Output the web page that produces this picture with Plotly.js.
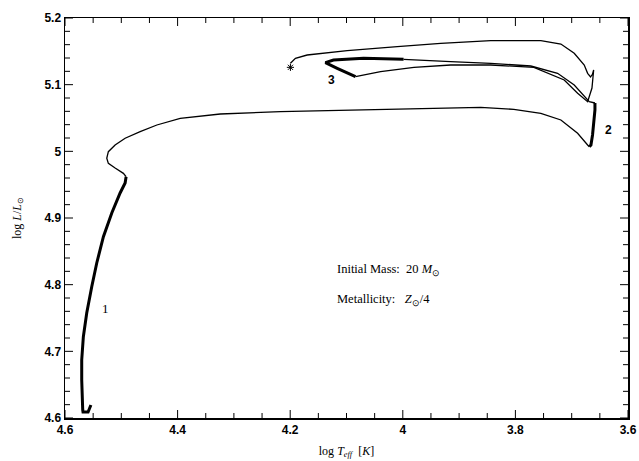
<!DOCTYPE html>
<html>
<head>
<meta charset="utf-8">
<script src="https://cdn.plot.ly/plotly-3.0.1.min.js"></script>
<style>html,body{margin:0;padding:0;background:#fff}#chart{width:639px;height:461px}</style>
</head>
<body>
<div id="chart"></div>
<script>
// Evolutionary track of a 20 Msun star, Z = Zsun/4 (log Teff, log L/Lsun)
// Segment A: core H burning (thick)
const msT = [4.554, 4.559, 4.568, 4.5685, 4.5703, 4.5703, 4.5674, 4.5614, 4.5525, 4.5436, 4.5318, 4.5169, 4.5021, 4.4932, 4.4915];
const msL = [4.6195, 4.609, 4.609, 4.612, 4.657, 4.687, 4.722, 4.7575, 4.797, 4.8325, 4.872, 4.9075, 4.9375, 4.9525, 4.962];
// Segment B: hook + Hertzsprung gap crossing (thin)
const hgT = [4.4915, 4.4963, 4.511, 4.523, 4.5258, 4.523, 4.511, 4.4932, 4.4665, 4.4368, 4.3954, 4.3242, 4.2174, 4.0987, 3.9808, 3.8616, 3.8028, 3.7548, 3.7192, 3.6895, 3.6717, 3.6688];
const hgL = [4.962, 4.967, 4.975, 4.982, 4.9896, 4.9995, 5.0095, 5.0196, 5.0295, 5.0395, 5.0496, 5.056, 5.0595, 5.062, 5.0646, 5.066, 5.063, 5.057, 5.047, 5.027, 5.0095, 5.007];
// Segment C: red supergiant He burning (thick)
const rsgT = [3.6688, 3.6658, 3.663, 3.6601, 3.6587, 3.6587];
const rsgL = [5.007, 5.0095, 5.0245, 5.047, 5.062, 5.0725];
// Segment D: blueward to loop (thin)
const bwT = [3.6587, 3.6688, 3.6955, 3.7251, 3.7726, 3.8438, 3.9149, 3.9986];
const bwL = [5.0725, 5.0745, 5.0995, 5.117, 5.128, 5.132, 5.1345, 5.138];
// Segment E: blue loop He burning (thick)
const loopT = [3.9986, 4.0697, 4.1231, 4.1374, 4.1165, 4.0898, 4.084];
const loopL = [5.138, 5.1395, 5.137, 5.133, 5.1245, 5.1145, 5.112];
// Segment F: back to red, final crossing (thin)
const finT = [4.084, 4.0395, 3.9802, 3.9149, 3.8438, 3.7672, 3.7133, 3.6895, 3.6717, 3.664, 3.661, 3.6632, 3.6665, 3.6717, 3.6777, 3.6955, 3.7192, 3.7548, 3.8438, 3.9327, 4.0098, 4.0987, 4.1699, 4.1907, 4.1996];
const finL = [5.112, 5.1195, 5.126, 5.1295, 5.1295, 5.126, 5.107, 5.087, 5.0745, 5.095, 5.122, 5.1155, 5.1115, 5.117, 5.1295, 5.147, 5.161, 5.166, 5.166, 5.162, 5.157, 5.151, 5.1445, 5.1395, 5.132];
// End of track marker
const endT = [4.1996];
const endL = [5.126];
// Phase labels
const phaseText = ['1', '2', '3'];
const phaseT = [4.5288, 3.6338, 4.1267];
const phaseL = [4.765, 5.032, 5.107];
// Axis tick positions (major labelled, minor unlabelled)
const xMajor = [4.6, 4.4, 4.2, 4.0, 3.8, 3.6];
const xMinor = [4.55, 4.5, 4.45, 4.35, 4.3, 4.25, 4.15, 4.1, 4.05, 3.95, 3.9, 3.85, 3.75, 3.7, 3.65];
const yMajor = [4.6, 4.7, 4.8, 4.9, 5.0, 5.1, 5.2];
const yMinor = [4.62, 4.64, 4.66, 4.68, 4.72, 4.74, 4.76, 4.78, 4.82, 4.84, 4.86, 4.88, 4.92, 4.94, 4.96, 4.98, 5.02, 5.04, 5.06, 5.08, 5.12, 5.14, 5.16, 5.18];

const X0 = 4.6, X1 = 3.6, Y0 = 4.6, Y1 = 5.2;
const plotW = 639 - 65 - 11, plotH = 461 - 18 - 43;
const xPerPx = (X0 - X1) / plotW, yPerPx = (Y1 - Y0) / plotH;

// inward tick marks on all four sides, placed through the axes' own scales
function xTicks(vals, lenPx) {
  const xs = [], ys = [], d = lenPx * yPerPx;
  vals.forEach(v => { xs.push(v, v, null, v, v, null); ys.push(Y0, Y0 + d, null, Y1, Y1 - d, null); });
  return {xs, ys};
}
function yTicks(vals, lenPx) {
  const xs = [], ys = [], d = lenPx * xPerPx;
  vals.forEach(v => { xs.push(X0, X0 - d, null, X1, X1 + d, null); ys.push(v, v, null, v, v, null); });
  return {xs, ys};
}
const tickLine = {color: '#000', width: 1};
const tickTrace = t => ({x: t.xs, y: t.ys, mode: 'lines', line: tickLine, hoverinfo: 'skip', showlegend: false, connectgaps: false, cliponaxis: false});

const thin = {color: '#000', width: 1.3};
const thick = {color: '#000', width: 3};
const tr = (x, y, line) => ({x, y, mode: 'lines', line, hoverinfo: 'skip', showlegend: false});

const data = [
  tickTrace(xTicks(xMajor, 8)),
  tickTrace(xTicks(xMinor, 5)),
  tickTrace(yTicks(yMajor, 8)),
  tickTrace(yTicks(yMinor, 5)),
  tr(msT, msL, thick),
  tr(hgT, hgL, thin),
  tr(rsgT, rsgL, thick),
  tr(bwT, bwL, thin),
  tr(loopT, loopL, thick),
  tr(finT, finL, thin),
  {x: endT, y: endL, mode: 'markers', marker: {symbol: 'asterisk-open', size: 6, color: '#000', line: {color: '#000', width: 1}}, showlegend: false}
];

const serif = 'Liberation Serif, Times New Roman, serif';
const sans = 'Liberation Sans, Arial, sans-serif';

const annotations = [
  {x: phaseT[0], y: phaseL[0], text: phaseText[0], font: {family: serif, size: 13, color: '#000'}},
  {x: phaseT[1], y: phaseL[1], text: '<b>' + phaseText[1] + '</b>', font: {family: sans, size: 12, color: '#000'}},
  {x: phaseT[2], y: phaseL[2], text: '<b>' + phaseText[2] + '</b>', font: {family: sans, size: 12, color: '#000'}},
  {x: 4.12, y: 4.822, xanchor: 'left', text: 'Initial Mass:  20 <i>M</i><sub>⊙</sub>', font: {family: serif, size: 12.5, color: '#000'}},
  {x: 4.12, y: 4.777, xanchor: 'left', text: 'Metallicity:   <i>Z</i><sub>⊙</sub>/4', font: {family: serif, size: 12.5, color: '#000'}}
].map(a => Object.assign({xref: 'x', yref: 'y', showarrow: false}, a));

const layout = {
  width: 639, height: 461,
  margin: {l: 65, r: 11, t: 18, b: 43},
  paper_bgcolor: '#fff', plot_bgcolor: '#fff',
  font: {color: '#000', family: sans},
  showlegend: false,
  xaxis: {
    range: [X0, X1], autorange: false,
    tickmode: 'array', tickvals: xMajor, ticktext: ['4.6', '4.4', '4.2', '4', '3.8', '3.6'],
    ticks: '',
    showline: true, linecolor: '#000', linewidth: 1.5, mirror: true,
    showgrid: false, zeroline: false,
    tickfont: {family: sans, size: 12, color: '#000', weight: 'bold'},
    title: {text: 'log <i>T<sub>eff</sub></i>  [<i>K</i>]', font: {family: serif, size: 12, color: '#000'}, standoff: 10}
  },
  yaxis: {
    range: [Y0, Y1], autorange: false,
    tickmode: 'array', tickvals: yMajor, ticktext: ['4.6', '4.7', '4.8', '4.9', '5', '5.1', '5.2'],
    ticks: '',
    showline: true, linecolor: '#000', linewidth: 1.5, mirror: true,
    showgrid: false, zeroline: false,
    tickfont: {family: sans, size: 12, color: '#000', weight: 'bold'},
    title: {text: 'log <i>L</i>/<i>L</i><sub>⊙</sub>', font: {family: serif, size: 12, color: '#000'}, standoff: 20}
  },
  annotations
};

Plotly.newPlot('chart', data, layout, {displayModeBar: false, staticPlot: true});
</script>
</body>
</html>
